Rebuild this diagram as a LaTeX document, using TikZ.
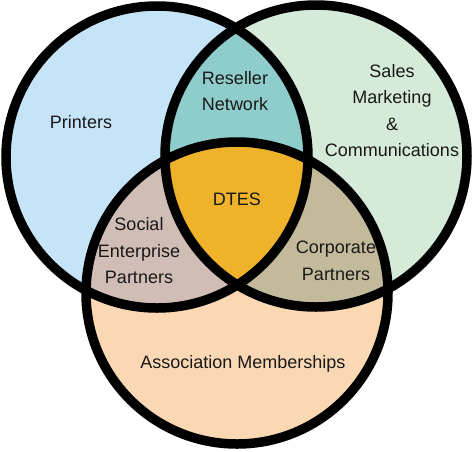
\documentclass[tikz,border=0pt]{standalone}
\usepackage{fontspec}
\setmainfont{Liberation Sans}
\definecolor{cblue}{HTML}{C6E4F7}
\definecolor{cgreen}{HTML}{D5EAD8}
\definecolor{cpeach}{HTML}{FAD8B4}
\definecolor{cteal}{HTML}{8ECDCB}
\definecolor{ctaupe}{HTML}{D0BDB6}
\definecolor{colive}{HTML}{C3BA9B}
\definecolor{cgold}{HTML}{EFB22B}
\begin{document}
\begin{tikzpicture}[x=1pt,y=-1pt,
  lbl/.style={font=\fontsize{18}{26.5}\selectfont, align=center, text=black!90, inner sep=0pt},
  ring/.style={draw=black, line width=9.5pt}]
\useasboundingbox (0,0) rectangle (474,451);
\def\R{151pt}
\coordinate (L) at (157,157);
\coordinate (Rc) at (316,156);
\coordinate (B) at (237,293);
\fill[cblue] (L) circle[radius=\R];
\fill[cgreen] (Rc) circle[radius=\R];
\fill[cpeach] (B) circle[radius=\R];
\begin{scope}
  \clip (L) circle[radius=\R];
  \fill[cteal] (Rc) circle[radius=\R];
  \fill[ctaupe] (B) circle[radius=\R];
\end{scope}
\begin{scope}
  \clip (Rc) circle[radius=\R];
  \fill[colive] (B) circle[radius=\R];
\end{scope}
\begin{scope}
  \clip (L) circle[radius=\R];
  \clip (Rc) circle[radius=\R];
  \fill[cgold] (B) circle[radius=\R];
\end{scope}
\draw[ring] (L) circle[radius=\R];
\draw[ring] (Rc) circle[radius=\R];
\draw[ring] (B) circle[radius=\R];
\node[lbl] (printers) at (81,122) {Printers};
\node[lbl] (reseller) at (235,91) {Reseller\\Network};
\node[lbl] (sales) at (392,110.5) {Sales\\Marketing\\\&\\Communications};
\node[lbl] (dtes) at (237,199) {DTES};
\node[lbl] (social) at (139,251) {Social\\Enterprise\\Partners};
\node[lbl] (corp) at (336,261) {Corporate\\Partners};
\node[lbl] (assoc) at (243,364) {Association Memberships};
\end{tikzpicture}
\end{document}
